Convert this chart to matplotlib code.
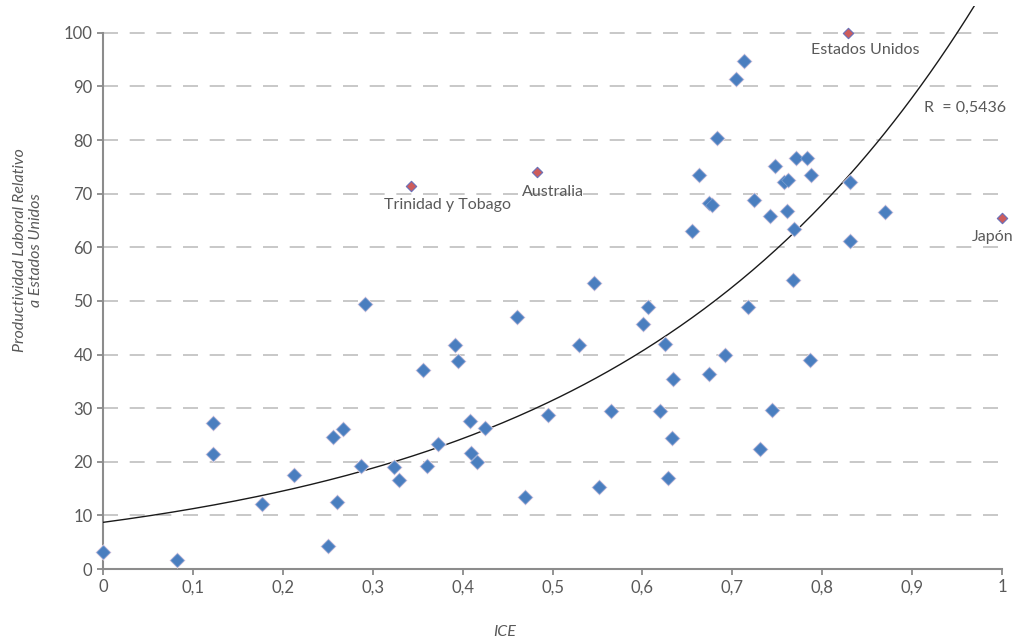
import numpy as np
import matplotlib
matplotlib.use("Agg")
import matplotlib.pyplot as plt

plt.rcParams['font.family'] = ['Lato', 'DejaVu Sans']

# ICE vs productividad (blue points)
ice = [0.000, 0.082, 0.122, 0.122, 0.177, 0.213, 0.250, 0.256, 0.260, 0.267,
       0.287, 0.291, 0.324, 0.329, 0.356, 0.360, 0.373, 0.392, 0.395, 0.408,
       0.409, 0.416, 0.425, 0.460, 0.469, 0.495, 0.530, 0.546, 0.552, 0.565,
       0.601, 0.606, 0.620, 0.625, 0.629, 0.633, 0.634, 0.655, 0.663, 0.674,
       0.677, 0.683, 0.674, 0.692, 0.704, 0.713, 0.717, 0.724, 0.731, 0.742,
       0.744, 0.748, 0.758, 0.762, 0.761, 0.768, 0.769, 0.771, 0.783, 0.786,
       0.787, 0.831, 0.831, 0.870]
prod = [3.1, 1.7, 27.2, 21.5, 12.2, 17.5, 4.2, 24.7, 12.5, 26.2,
        19.3, 49.4, 19.0, 16.6, 37.2, 19.3, 23.3, 41.7, 38.8, 27.6,
        21.6, 19.9, 26.3, 47.0, 13.4, 28.7, 41.7, 53.4, 15.3, 29.5,
        45.7, 48.9, 29.5, 41.9, 16.9, 24.4, 35.4, 63.1, 73.4, 68.2,
        67.8, 80.3, 36.4, 40.0, 91.4, 94.8, 48.8, 68.8, 22.3, 65.9,
        29.7, 75.2, 72.1, 72.6, 66.7, 53.9, 63.4, 76.7, 76.6, 39.0,
        73.4, 72.2, 61.2, 66.5]

# highlighted countries
paises = ['Trinidad y Tobago', 'Australia', 'Estados Unidos', 'Japón']
ice_p = [0.343, 0.483, 0.829, 1.000]
prod_p = [71.5, 74.0, 100.0, 65.5]

# exponential trendline y = a*exp(b*x), as shown on the chart
trend_a = 8.7
trend_b = 2.57
r2_text = 'R  = 0,5436'

grey = '#595959'

fig = plt.figure(figsize=(10.14, 6.41), dpi=100)
ax = fig.add_axes([103/1014, 72/641, 899/1014, 563/641])

ax.set_xlim(0, 1)
ax.set_ylim(0, 105)

# dashed grid
for yv in range(10, 101, 10):
    ax.axhline(yv, color='#bfbfbf', lw=1.2, ls=(0, (9, 7)), zorder=0)

xx = np.linspace(0, 1, 300)
ax.plot(xx, trend_a*np.exp(trend_b*xx), color='#1a1a1a', lw=1.0, zorder=3)

# soft halo under the points, like the blurred original
ax.scatter(ice, prod, marker='D', s=70, color='#f3dbe8', linewidth=0, zorder=4, clip_on=False)
ax.scatter(ice, prod, marker='D', s=48, color='#4a7ebf', edgecolor='#7c9fd0',
           linewidth=0.5, zorder=4, clip_on=False)
ax.scatter(ice_p, prod_p, marker='D', s=28, color='#cd5c5c', edgecolor='#6a70b8',
           linewidth=0.8, zorder=5, clip_on=False)

fs = 11.5
ax.text(0.383, 67.9, paises[0], color=grey, fontsize=fs, ha='center', va='center')
ax.text(0.501, 70.3, paises[1], color=grey, fontsize=fs, ha='center', va='center')
ax.text(0.848, 96.8, paises[2], color=grey, fontsize=fs, ha='center', va='center')
ax.text(0.989, 61.9, paises[3], color=grey, fontsize=fs, ha='center', va='center')
ax.text(0.913, 86.0, r2_text, color=grey, fontsize=fs, ha='left', va='center')

ax.set_xticks(np.arange(0, 1.01, 0.1))
ax.set_xticklabels(['0', '0,1', '0,2', '0,3', '0,4', '0,5', '0,6', '0,7', '0,8', '0,9', '1'])
ax.set_yticks(range(0, 101, 10))
ax.tick_params(colors='#808080', labelcolor=grey, labelsize=12, length=4, width=1.2)

for s in ['top', 'right']:
    ax.spines[s].set_visible(False)
for s in ['left', 'bottom']:
    ax.spines[s].set_color('#8c8c8c')
    ax.spines[s].set_linewidth(1.5)
ax.spines['left'].set_bounds(0, 100)

fig.text(28/1014, 1 - 250/641, 'Productividad Laboral Relativo\na Estados Unidos',
         rotation=90, ha='center', va='center', style='italic', color=grey,
         fontsize=11.5, linespacing=1.25)
fig.text(505/1014, 1 - 632/641, 'ICE', ha='center', va='center', style='italic',
         color=grey, fontsize=11.5)

plt.savefig('out.png', dpi=100)
